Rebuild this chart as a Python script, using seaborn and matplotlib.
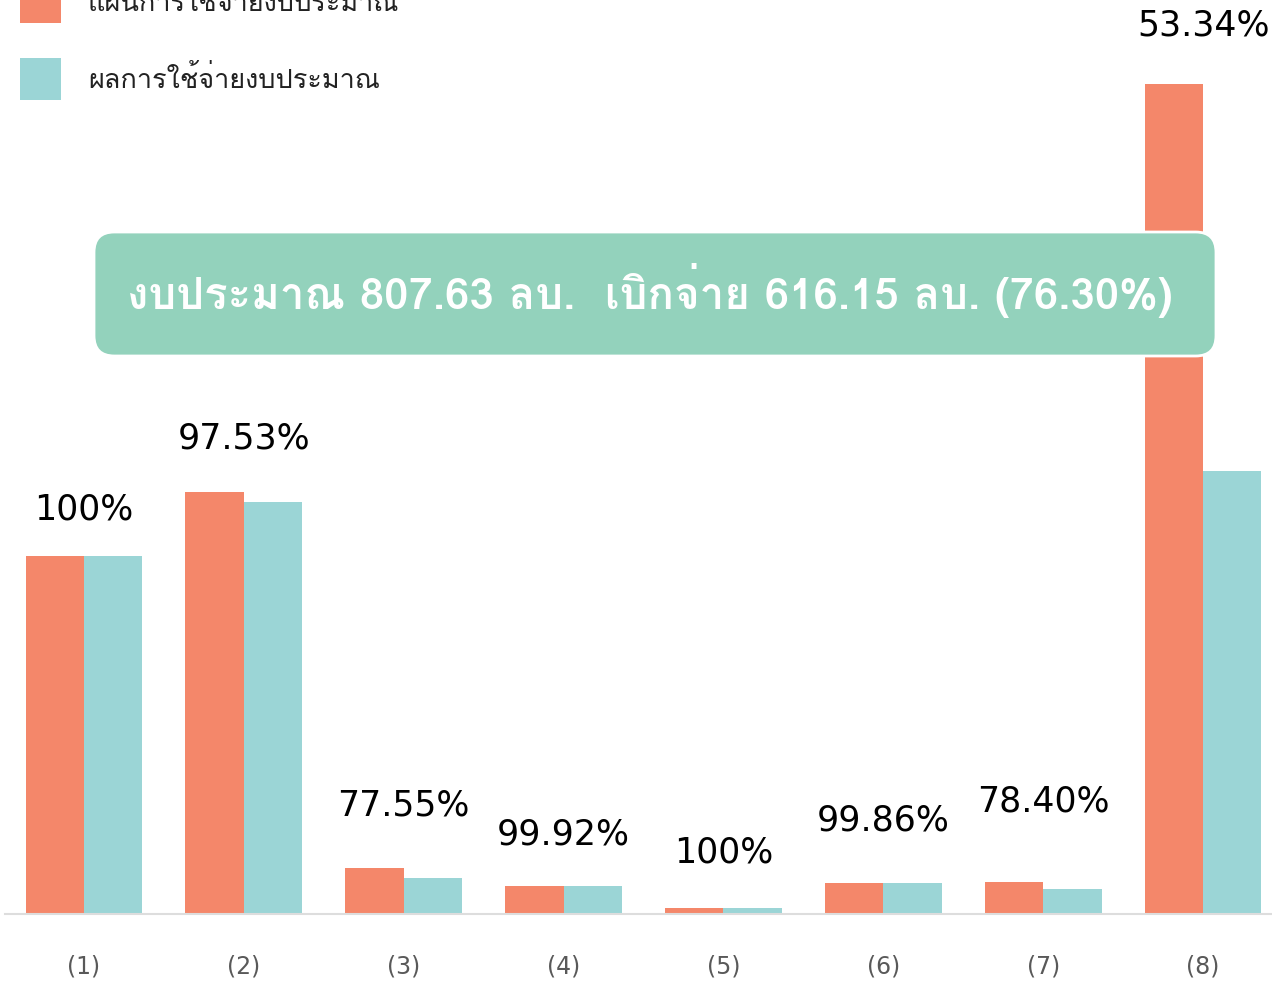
import numpy as np
import pandas as pd
import seaborn as sns
from matplotlib import pyplot as plt
from matplotlib import font_manager
from matplotlib.patches import FancyBboxPatch
from fontTools.ttLib import TTFont

# budget per item, million baht
items = ['(1)', '(2)', '(3)', '(4)', '(5)', '(6)', '(7)', '(8)']
plan = [164.9, 194.4, 21.2, 12.9, 2.8, 14.3, 14.7, 382.4]
spent = [164.9, 189.6, 16.4, 12.9, 2.8, 14.3, 11.5, 204.0]
pct_labels = ['100%', '97.53%', '77.55%', '99.92%', '100%', '99.86%', '78.40%', '53.34%']
series_names = ['แผนการใช้จ่ายงบประมาณ', 'ผลการใช้จ่ายงบประมาณ']
summary = 'งบประมาณ 807.63 ลบ.  เบิกจ่าย 616.15 ลบ. (76.30%)'

colors = ['#F4876A', '#9BD5D6']
# how far (points) each percentage sits above its bars
label_lift = [21.5, 26, 33, 24.5, 27.5, 32.5, 46, 30]


def find_thai_font():
    # first installed family that has Thai glyphs
    for f in font_manager.fontManager.ttflist:
        try:
            cmap = TTFont(f.fname, fontNumber=0, lazy=True).getBestCmap()
        except Exception:
            continue
        if cmap and 0x0E01 in cmap:
            return f.name
    return None


sns.set_theme(style='white')
thai = find_thai_font()
plt.rcParams['font.family'] = ([thai] if thai else []) + ['DejaVu Sans']

df = pd.DataFrame({
    'item': items * 2,
    'value': plan + spent,
    'series': [series_names[0]] * len(items) + [series_names[1]] * len(items),
})

fig = plt.figure(figsize=(12.72, 9.81), dpi=100)
ax = fig.add_axes([5 / 1272, 67 / 981, 1267 / 1272, 914 / 981])

sns.barplot(data=df, x='item', y='value', hue='series', palette=colors,
            width=0.73, gap=0, saturation=1, linewidth=0, ax=ax, legend=True)

ax.set_xlim(-0.494, 7.431)
ax.set_ylim(0, 421.1)
ax.set_xlabel('')
ax.set_ylabel('')
ax.set_yticks([])
ax.tick_params(axis='x', length=0, pad=29, labelsize=17, labelcolor='#595959')
for t in ax.get_xticklabels():
    t.set_family('DejaVu Sans')
for s in ['top', 'left', 'right']:
    ax.spines[s].set_visible(False)
ax.spines['bottom'].set_color('#DDDDDD')
ax.spines['bottom'].set_linewidth(1.5)

# percentage labels over each group
for i, lab in enumerate(pct_labels):
    top = max(plan[i], spent[i])
    ax.annotate(lab, (i, top), xytext=(0, label_lift[i]), textcoords='offset points',
                ha='center', va='bottom', fontsize=25, color='black',
                family='DejaVu Sans')

# legend, partly cut at top like the source
handles, labels = ax.get_legend_handles_labels()
leg = ax.legend(handles, labels, loc='upper left',
                bbox_to_anchor=(20 / 1272, 1 + 19 / 981),
                bbox_transform=fig.transFigure, frameon=False, fontsize=19.5,
                handlelength=1.51, handleheight=2.0, handletextpad=1.0,
                labelspacing=1.3, borderpad=0, borderaxespad=0)
for t in leg.get_texts():
    t.set_color('#222222')

# summary banner
box = FancyBboxPatch((94 / 1272, 625 / 981), 1122 / 1272, 124 / 981,
                     boxstyle='round,pad=0,rounding_size=0.016',
                     mutation_aspect=1272 / 981, transform=fig.transFigure,
                     facecolor='#93D2BC', edgecolor='white', linewidth=2, zorder=5)
fig.patches.append(box)
fig.text(650 / 1272, 1 - 290 / 981, summary, ha='center', va='center',
         fontsize=31.5, fontweight='bold', color='white', zorder=6)

plt.savefig('out.png', dpi=100)
plt.close()
